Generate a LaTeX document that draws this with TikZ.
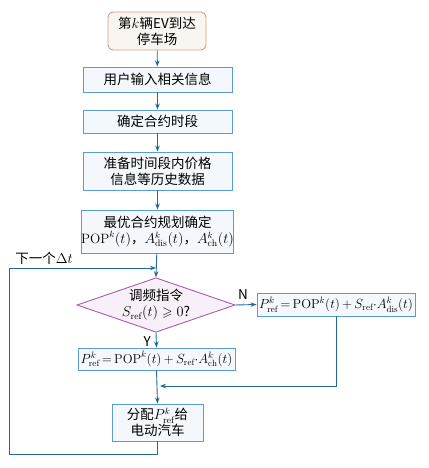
\documentclass[tikz,border=0pt]{standalone}
\usepackage{amsmath,amssymb}
\usepackage{graphicx}
\usepackage{fontspec}
\newfontfamily\cjk{Noto Sans CJK SC}
\usepackage{xcolor}
\usetikzlibrary{shapes.geometric,arrows.meta}

\definecolor{lineblue}{HTML}{1F6A96}
\definecolor{boxblue}{HTML}{5B9BD5}
\definecolor{boxfill}{HTML}{F4F8FC}
\definecolor{startline}{HTML}{C9A27E}
\definecolor{startfill}{HTML}{F9F6F1}
\definecolor{diaBorder}{HTML}{A45EA8}
\definecolor{diaFill}{HTML}{F8F0F8}

\newcommand\tightmath{\medmuskip=3mu\relax\thickmuskip=3mu\relax}
\newcommand\eqtext[1]{\scalebox{0.92}{#1}}

\tikzset{
  every node/.style={font=\cjk\fontsize{13.5pt}{16pt}\selectfont, align=center, inner sep=0pt},
  procbox/.style={draw=boxblue, fill=boxfill, line width=0.9pt, minimum width=#1},
  procbox/.default=149pt,
  formula/.style={font=\fontsize{14pt}{16pt}\selectfont\tightmath},
  startbox/.style={draw=startline, fill=startfill, line width=0.9pt, rounded corners=5pt,
    minimum width=98pt, minimum height=38pt},
  decide/.style={diamond, draw=diaBorder, fill=diaFill, line width=0.9pt,
    shape aspect=2.9, minimum width=145pt, minimum height=50pt},
  flow/.style={draw=lineblue, line width=0.9pt, -{Stealth[length=6pt,width=4.5pt]}},
  plain/.style={draw=lineblue, line width=0.9pt}
}

\begin{document}
\begin{tikzpicture}[x=1pt,y=-1pt]
  \useasboundingbox (0,0) rectangle (428,468);

  % boxes
  \node[startbox] (arrive) at (157,31) {第$k$辆EV到达\\停车场};
  \node[procbox, minimum height=25pt] (input) at (157.5,79.5) {用户输入相关信息};
  \node[procbox, minimum height=23pt] (period) at (157.5,121.5) {确定合约时段};
  \node[procbox, minimum height=38pt] (history) at (157.5,171) {准备时间段内价格\\信息等历史数据};
  \node[procbox, minimum height=43pt] (plan) at (157.5,231.5)
    {最优合约规划确定\\$\mathrm{POP}^k(t)$，$A^k_{\mathrm{dis}}(t)$，$A^k_{\mathrm{ch}}(t)$};
  \node[decide] (signal) at (156,305) {调频指令\\$S_{\mathrm{ref}}(t)\geqslant 0$?};
  \node[procbox=158pt, minimum height=23pt, formula] (discharge) at (336,304.5)
    {\eqtext{$P^k_{\mathrm{ref}}=\mathrm{POP}^k(t)+S_{\mathrm{ref}}{\cdot}A^k_{\mathrm{dis}}(t)$}};
  \node[procbox=157pt, minimum height=22pt, formula] (charge) at (156.5,359)
    {\eqtext{$P^k_{\mathrm{ref}}=\mathrm{POP}^k(t)+S_{\mathrm{ref}}{\cdot}A^k_{\mathrm{ch}}(t)$}};
  \node[procbox=91pt, minimum height=37pt] (assign) at (157.5,422.5)
    {分配$P^k_{\mathrm{ref}}$给\\电动汽车};

  % helper points
  \coordinate (loopin) at (157,268);
  \coordinate (merge) at (157,386);

  % connectors
  \draw[flow] (arrive) -- (input);
  \draw[flow] (input) -- (period);
  \draw[flow] (period) -- (history);
  \draw[flow] (history) -- (plan);
  \draw[flow] (plan) -- (signal.north);
  \draw[flow] (signal.east) -- node[above=5pt, xshift=-3pt]{N} (discharge.west);
  \draw[flow] (signal.south) -- node[left=5pt, yshift=-1pt]{Y} (charge.north);
  \draw[flow] (charge.south) -- (assign.north);
  \draw[flow] (discharge.south) |- ([xshift=3pt]merge);
  \draw[flow] (assign.south) -- ++(0,13) -| (9,268) -- ([xshift=-1pt]loopin);
  \node (next) at (44,258) {下一个$\Delta t$};
\end{tikzpicture}
\end{document}
